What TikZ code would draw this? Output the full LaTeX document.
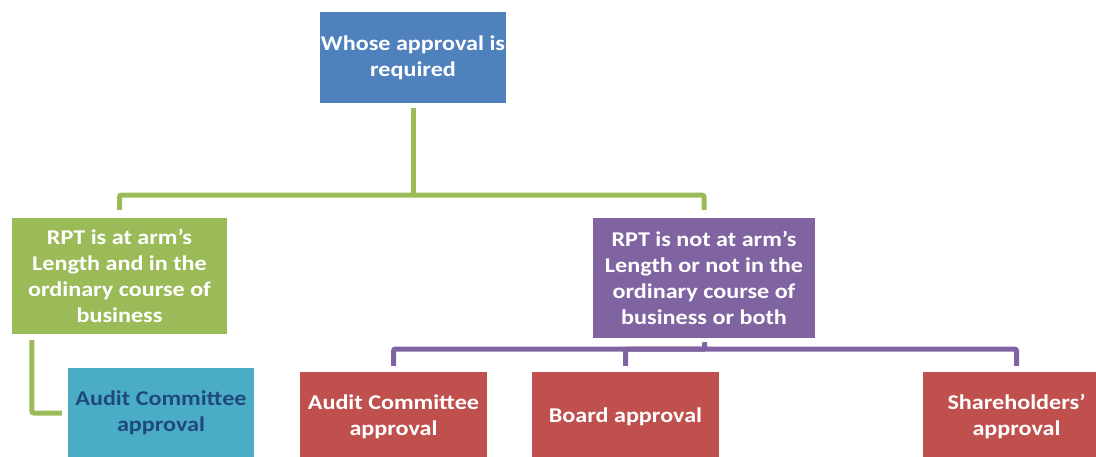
\documentclass[tikz,border=0pt]{standalone}
\usepackage{fontspec}
\setmainfont{Carlito}
\newfontfamily\qfont{Carlito}[FakeStretch=1.15]
\usetikzlibrary{positioning}

\definecolor{qblue}{HTML}{4F81BD}
\definecolor{qgreen}{HTML}{9BBB59}
\definecolor{qpurple}{HTML}{8064A2}
\definecolor{qred}{HTML}{C0504D}
\definecolor{qaqua}{HTML}{4BACC6}
\definecolor{qnavy}{HTML}{1F497D}

\tikzset{
  qbox/.style={fill=#1, text=white, align=center, inner sep=0pt,
    font=\qfont\bfseries\fontsize{21}{26}\selectfont},
  gline/.style={line width=5pt, qgreen, rounded corners=2pt},
  pline/.style={line width=5pt, qpurple, rounded corners=2pt}
}

\begin{document}
\begin{tikzpicture}[x=1pt, y=-1pt]
    % Page frame
    \clip (0,0) rectangle (1096,456);

    % Top question
    \node[qbox=qblue, minimum width=186pt, minimum height=91pt] (whose) at (413,57.5)
        {Whose approval is\\required};

    % The two cases
    \node[qbox=qgreen, minimum width=215pt, minimum height=116pt] (armlen) at (119.5,276)
        {RPT is at arm’s\\Length and in the\\ordinary course of\\business};
    \node[qbox=qpurple, minimum width=222pt, minimum height=120pt] (notarm) at (704,278)
        {RPT is not at arm’s\\Length or not in the\\ordinary course of\\business or both};

    % Approval for the first case
    \node[qbox=qaqua, text=qnavy, minimum width=186pt, minimum height=90pt] (auditA) at (161,413)
        {Audit Committee\\approval};

    % Approvals for the second case
    \foreach \name/\x/\label in {auditB/393.5/{Audit Committee\\approval},
                                 board/625.5/{Board approval},
                                 share/1016.5/{Shareholders’\\approval}}
        \node[qbox=qred, minimum width=187pt, minimum height=90pt] (\name) at (\x,417) {\label};

    % Green connectors
    \coordinate (gsplit) at (413,195);
    \draw[gline, shorten <=5pt] (whose.south) -- (gsplit);
    \draw[gline, shorten >=8pt] (gsplit) -| (armlen.north);
    \draw[gline, shorten >=8pt] (gsplit) -| (notarm.north);
    \draw[gline, shorten <=6pt, shorten >=6pt] ([xshift=20pt]armlen.south west) |- (auditA.west);

    % Purple connectors
    \coordinate (psplit) at (705,349);
    \draw[pline, shorten <=4pt] (notarm.south) -- (psplit);
    \foreach \name in {auditB, board, share}
        \draw[pline, shorten >=6pt] (psplit) -| (\name.north);
\end{tikzpicture}
\end{document}
